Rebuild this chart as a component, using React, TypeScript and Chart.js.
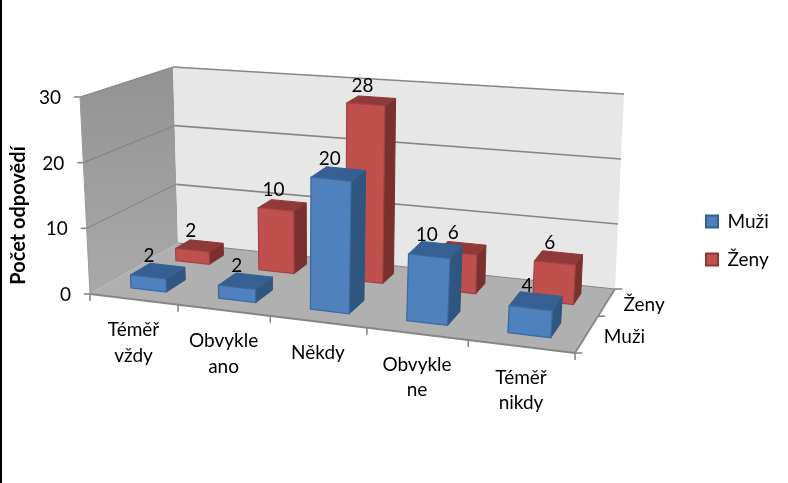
import React, { useEffect, useRef } from "react";
import { Chart, registerables } from "chart.js";

Chart.register(...registerables);

const categories: string[][] = [
  ["Téměř", "vždy"],
  ["Obvykle", "ano"],
  ["Někdy"],
  ["Obvykle", "ne"],
  ["Téměř", "nikdy"],
];
const muzi = [2, 2, 20, 10, 4];
const zeny = [2, 10, 28, 6, 6];
const seriesNames = ["Muži", "Ženy"];
const axisTitle = "Počet odpovědí";

const FONT = "Lato, Carlito, Calibri, sans-serif";
const looks = [
  { front: "#4F81BD", top: "#376092", side: "#30557F", edge: "#3A689F", box: "#35608F" },
  { front: "#C0504D", top: "#8F3A38", side: "#7A302E", edge: "#A04340", box: "#8C3836" },
];
// box of the plot in page pixels: [x, y] for (left/right, front/back, bottom/top)
const corner = {
  flb: [90, 294], frb: [575, 353], blb: [178, 243], brb: [615, 289],
  flt: [80, 97], frt: [590, 147], blt: [173, 67], brt: [624, 94],
};
const PERSP_U = -0.113;
const PERSP_V = 0.353;
const depthSpans = [[0.14, 0.34], [0.64, 0.84]];
const depthCentres = [0.25, 0.75];

function P(u: number, v: number, w: number): [number, number] {
  const a = (u * (1 + PERSP_U)) / (1 + PERSP_U * u);
  const b = (v * (1 + PERSP_V)) / (1 + PERSP_V * v);
  const mix = (k: 0 | 1) => {
    const fb = corner.flb[k] + (corner.frb[k] - corner.flb[k]) * a;
    const bb = corner.blb[k] + (corner.brb[k] - corner.blb[k]) * a;
    const ft = corner.flt[k] + (corner.frt[k] - corner.flt[k]) * a;
    const bt = corner.blt[k] + (corner.brt[k] - corner.blt[k]) * a;
    const low = fb + (bb - fb) * b;
    const high = ft + (bt - ft) * b;
    return low + (high - low) * w;
  };
  return [mix(0), mix(1)];
}

function poly(ctx: CanvasRenderingContext2D, pts: [number, number][], fill?: string | CanvasGradient, stroke?: string, lw = 1) {
  ctx.beginPath();
  pts.forEach((p, i) => (i ? ctx.lineTo(p[0], p[1]) : ctx.moveTo(p[0], p[1])));
  ctx.closePath();
  if (fill) {
    ctx.fillStyle = fill;
    ctx.fill();
  }
  if (stroke) {
    ctx.strokeStyle = stroke;
    ctx.lineWidth = lw;
    ctx.stroke();
  }
}

function seg(ctx: CanvasRenderingContext2D, a: [number, number], b: [number, number], color: string, lw: number) {
  ctx.beginPath();
  ctx.moveTo(a[0], a[1]);
  ctx.lineTo(b[0], b[1]);
  ctx.strokeStyle = color;
  ctx.lineWidth = lw;
  ctx.stroke();
}

const box3d = {
  id: "box3d",
  beforeDatasetsDraw(chart: any) {
    const ctx: CanvasRenderingContext2D = chart.ctx;
    const yScale = chart.scales.y;
    const area = chart.chartArea;
    const LINE = "#868686";
    ctx.save();
    ctx.fillStyle = "#000";
    ctx.fillRect(0, 0, 2, chart.height);

    const wallGrad = ctx.createLinearGradient(0, 67, 0, 294);
    wallGrad.addColorStop(0, "#939393");
    wallGrad.addColorStop(1, "#A9A9A9");
    poly(ctx, [P(0, 0, 0), P(0, 1, 0), P(0, 1, 1), P(0, 0, 1)], wallGrad);
    poly(ctx, [P(0, 1, 0), P(1, 1, 0), P(1, 1, 1), P(0, 1, 1)], "#E7E7E7");
    poly(ctx, [P(0, 0, 0), P(1, 0, 0), P(1, 1, 0), P(0, 1, 0)], "#B0B0B0");

    // value grid, tick marks and tick labels from the y scale
    ctx.font = `19px ${FONT}`;
    ctx.textAlign = "right";
    ctx.textBaseline = "middle";
    yScale.ticks.forEach((t: any) => {
      const w = (area.bottom - yScale.getPixelForValue(t.value)) / area.height;
      const front = P(0, 0, w);
      const back = P(0, 1, w);
      const right = P(1, 1, w);
      if (t.value !== 0) {
        seg(ctx, front, back, LINE, 1.2);
        seg(ctx, back, right, LINE, 1.6);
      }
      seg(ctx, [front[0] - 6, front[1]], front, LINE, 1.6);
      ctx.fillStyle = "#000";
      ctx.fillText(String(t.value), front[0] - 19, front[1] + 1);
    });
    // axis lines
    seg(ctx, P(0, 0, 0), P(0, 0, 1), "#999999", 1);
    seg(ctx, P(0, 0, 0), P(1, 0, 0), LINE, 1.8);
    seg(ctx, P(1, 0, 0), P(1, 1, 0), LINE, 1.8);
    seg(ctx, P(0, 1, 0), P(1, 1, 0), LINE, 1);

    // category ticks and labels
    const n = chart.data.labels.length;
    for (let i = 0; i <= n; i++) {
      const p = P(i / n, 0, 0);
      seg(ctx, p, [p[0], p[1] + 7], LINE, 1.6);
    }
    ctx.textAlign = "center";
    ctx.fillStyle = "#000";
    (chart.data.labels as string[][]).forEach((lines, i) => {
      const p = P((i + 0.5) / n, 0, 0);
      lines.forEach((line, j) => ctx.fillText(line, p[0], p[1] + 31 + j * 25.5));
    });

    // depth ticks and labels
    [0, 0.5, 1].forEach((v) => {
      const p = P(1, v, 0);
      seg(ctx, p, [p[0] + 7, p[1]], LINE, 1.6);
    });
    chart.data.datasets.forEach((d: any, i: number) => {
      const p = P(1, depthCentres[i], 0);
      ctx.fillStyle = "#000";
      ctx.fillText(d.label, p[0] + 37, p[1] + 3.5);
    });
    ctx.restore();
  },
  beforeDatasetDraw(chart: any, args: any) {
    const ctx: CanvasRenderingContext2D = chart.ctx;
    const area = chart.chartArea;
    const i = args.index;
    const look = looks[i];
    const [v0, v1] = depthSpans[i];
    ctx.save();
    args.meta.data.forEach((bar: any) => {
      const { x, y, base, width } = bar.getProps(["x", "y", "base", "width"], true);
      const u0 = (x - width / 2 - area.left) / area.width;
      const u1 = (x + width / 2 - area.left) / area.width;
      const w0 = (area.bottom - base) / area.height;
      const w1 = (area.bottom - y) / area.height;
      poly(ctx, [P(u1, v0, w0), P(u1, v1, w0), P(u1, v1, w1), P(u1, v0, w1)], look.side, look.side, 1);
      poly(ctx, [P(u0, v0, w1), P(u1, v0, w1), P(u1, v1, w1), P(u0, v1, w1)], look.top, look.top, 1);
      poly(ctx, [P(u0, v0, w0), P(u1, v0, w0), P(u1, v0, w1), P(u0, v0, w1)], look.front, look.edge, 1.2);
    });
    ctx.restore();
    return false;
  },
  afterDatasetsDraw(chart: any) {
    const ctx: CanvasRenderingContext2D = chart.ctx;
    const area = chart.chartArea;
    ctx.save();
    ctx.font = `19px ${FONT}`;
    ctx.textAlign = "center";
    ctx.textBaseline = "middle";
    ctx.fillStyle = "#000";
    chart.data.datasets.forEach((d: any, i: number) => {
      const meta = chart.getDatasetMeta(i);
      const [v0, v1] = depthSpans[i];
      meta.data.forEach((bar: any, k: number) => {
        const { x, y } = bar.getProps(["x", "y"], true);
        const p = P((x - area.left) / area.width, (v0 + v1) / 2, (area.bottom - y) / area.height);
        ctx.fillText(String(d.data[k]), p[0] - 9, p[1] - 15);
      });
    });
    ctx.restore();
  },
  afterLayout(chart: any) {
    const lg = chart.legend;
    const w = lg.right - lg.left;
    const h = lg.bottom - lg.top;
    lg.left = 687;
    lg.right = 687 + w;
    lg.top = 193;
    lg.bottom = 193 + h;
    // the axis title sits lower than the middle of the value axis
    const yScale = chart.scales.y;
    const drawTitle = yScale.drawTitle;
    yScale.drawTitle = function () {
      chart.ctx.save();
      chart.ctx.translate(0, 20);
      drawTitle.call(yScale);
      chart.ctx.restore();
    };
  },
};

export default function App() {
  const ref = useRef<HTMLCanvasElement>(null);
  useEffect(() => {
    document.body.style.margin = "0";
    const chart = new Chart(ref.current as HTMLCanvasElement, {
      type: "bar",
      data: {
        labels: categories as any,
        datasets: [
          {
            label: seriesNames[0],
            data: muzi,
            order: 0,
            grouped: false,
            categoryPercentage: 1,
            barPercentage: 0.41,
            backgroundColor: looks[0].front,
            borderColor: looks[0].box,
            borderWidth: 2,
          },
          {
            label: seriesNames[1],
            data: zeny,
            order: 1,
            grouped: false,
            categoryPercentage: 1,
            barPercentage: 0.41,
            backgroundColor: looks[1].front,
            borderColor: looks[1].box,
            borderWidth: 2,
          },
        ] as any,
      },
      options: {
        animation: false,
        responsive: false,
        layout: { padding: { left: 7, right: 0, top: 97, bottom: 189 } },
        scales: {
          x: { display: false },
          y: {
            min: 0,
            max: 30,
            ticks: { stepSize: 10, display: false },
            grid: { display: false },
            border: { display: false },
            title: {
              display: true,
              text: axisTitle,
              color: "#000",
              font: { family: FONT, size: 20, weight: "bold" },
              padding: 0,
            },
          },
        },
        plugins: {
          tooltip: { enabled: false },
          legend: {
            position: "right",
            align: "start",
            labels: {
              color: "#000",
              font: { family: FONT, size: 19 },
              boxWidth: 12,
              boxHeight: 12,
              padding: 19,
            },
          },
        },
      },
      plugins: [box3d],
    } as any);
    return () => chart.destroy();
  }, []);
  return <canvas ref={ref} width={788} height={483} style={{ display: "block" }} />;
}
